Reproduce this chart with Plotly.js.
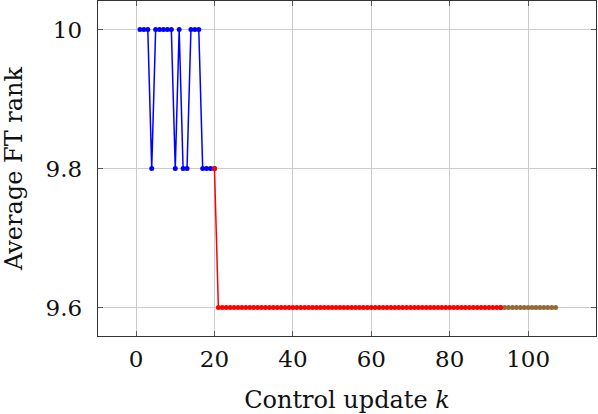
<!DOCTYPE html>
<html><head><meta charset="utf-8">
<script src="https://cdn.plot.ly/plotly-3.0.1.min.js"></script>
<style>html,body{margin:0;padding:0;background:#fff;}#chart{width:598px;height:414px;}</style>
</head><body><div id="chart"></div>
<script>
const kBlue = [1,2,3,4,5,6,7,8,9,10,11,12,13,14,15,16,17,18,19,20];
const rankBlue = [10,10,10,9.8,10,10,10,10,10,9.8,10,9.8,9.8,10,10,10,9.8,9.8,9.8,9.8];

const kRed = [20,21,22,23,24,25,26,27,28,29,
  30,31,32,33,34,35,36,37,38,39,
  40,41,42,43,44,45,46,47,48,49,
  50,51,52,53,54,55,56,57,58,59,
  60,61,62,63,64,65,66,67,68,69,
  70,71,72,73,74,75,76,77,78,79,
  80,81,82,83,84,85,86,87,88,89,
  90,91,92,93];
const rankRed = [9.8,
  9.6,9.6,9.6,9.6,9.6,9.6,9.6,9.6,9.6,9.6,
  9.6,9.6,9.6,9.6,9.6,9.6,9.6,9.6,9.6,9.6,
  9.6,9.6,9.6,9.6,9.6,9.6,9.6,9.6,9.6,9.6,
  9.6,9.6,9.6,9.6,9.6,9.6,9.6,9.6,9.6,9.6,
  9.6,9.6,9.6,9.6,9.6,9.6,9.6,9.6,9.6,9.6,
  9.6,9.6,9.6,9.6,9.6,9.6,9.6,9.6,9.6,9.6,
  9.6,9.6,9.6,9.6,9.6,9.6,9.6,9.6,9.6,9.6,
  9.6,9.6,9.6];

const kBrown = [93,94,95,96,97,98,99,100,101,102,103,104,105,106,107];
const rankBrown = [9.6,9.6,9.6,9.6,9.6,9.6,9.6,9.6,9.6,9.6,9.6,9.6,9.6,9.6,9.6];

const xTicks = [0,20,40,60,80,100];
const yTicks = [9.6,9.8,10];
const yTickLabels = ['9.6','9.8','10'];

const tickFont = {family: 'DejaVu Serif, Liberation Serif, serif', size: 23, color: '#111'};
const titleFont = {family: 'DejaVu Serif, Liberation Serif, serif', size: 24, color: '#111'};

function series(x, y, color) {
  return {x: x, y: y, type: 'scatter', mode: 'lines+markers',
    line: {color: color, width: 1.5}, marker: {color: color, size: 5}, hoverinfo: 'skip', showlegend: false};
}

const data = [
  series(kBlue, rankBlue, '#0000ff'),
  series(kBrown, rankBrown, '#946a3a'),
  series(kRed, rankRed, '#ff0000')
];

const axisCommon = {
  showline: true, mirror: 'ticks', linecolor: '#333', linewidth: 1.3,
  ticks: 'inside', ticklen: 5, tickcolor: '#555', tickwidth: 1,
  showgrid: true, gridcolor: '#cccccc', gridwidth: 1,
  zeroline: false, tickfont: tickFont, automargin: false
};

const layout = {
  width: 598, height: 414,
  margin: {l: 98, r: 2, t: 1, b: 78},
  paper_bgcolor: '#fff', plot_bgcolor: '#fff',
  font: tickFont,
  xaxis: Object.assign({}, axisCommon, {
    range: [-9.7, 117.3], tickvals: xTicks, ticktext: xTicks.map(String),
    ticklabelstandoff: 2,
    title: {text: 'Control update <i>k</i>', font: titleFont, standoff: 20}
  }),
  yaxis: Object.assign({}, axisCommon, {
    range: [9.559, 10.041], tickvals: yTicks, ticktext: yTickLabels,
    ticklabelstandoff: 10,
    title: {text: 'Average FT rank', font: titleFont, standoff: 20}
  })
};

Plotly.newPlot('chart', data, layout, {displayModeBar: false, staticPlot: true});
</script>
</body></html>
